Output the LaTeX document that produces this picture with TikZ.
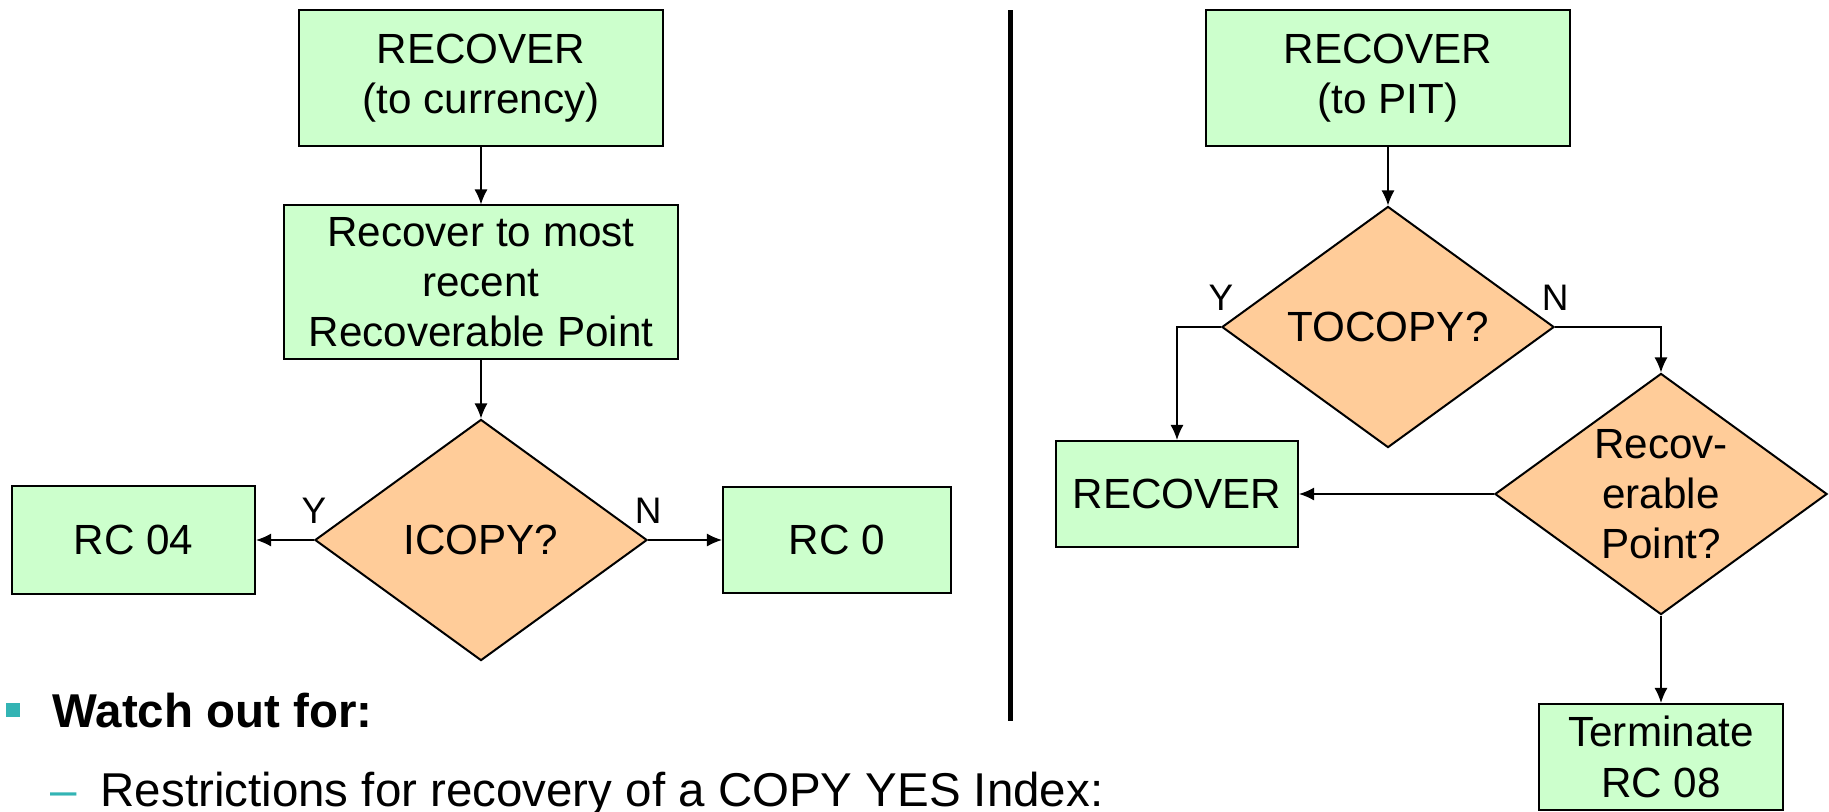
\documentclass[tikz,border=0pt]{standalone}
\usepackage{fontspec}
\setmainfont{Liberation Sans}
\usepackage{xcolor}
\usetikzlibrary{positioning}
\usetikzlibrary{shapes.geometric}
\usetikzlibrary{arrows.meta}

\definecolor{boxgreen}{RGB}{204,255,204}
\definecolor{decorange}{RGB}{255,204,153}
\definecolor{bulletteal}{RGB}{51,180,180}

\tikzset{
	actbox/.style={draw, line width=0.57pt, fill=boxgreen, align=center, inner sep=0pt,
		font=\fontsize{12pt}{14.3pt}\selectfont},
	decision/.style={diamond, draw, line width=0.57pt, fill=decorange, align=center, inner sep=0pt,
		aspect=1.38, minimum width=3.32cm, minimum height=2.41cm,
		font=\fontsize{12pt}{14.3pt}\selectfont},
	yn/.style={inner sep=0pt, font=\fontsize{10.5pt}{12pt}\selectfont},
	flow/.style={-{Latex[length=0.15cm, width=0.13cm]}, line width=0.4pt},
	slidetext/.style={anchor=base west, inner sep=0pt, font=\fontsize{13.5pt}{16pt}\selectfont},
}

\begin{document}
\begin{tikzpicture}[x=0.01cm, y=-0.01cm]
	\useasboundingbox (0,0) rectangle (1829,811);

	% recover to currency
	\begin{scope}
		\node[actbox, minimum width=3.64cm, minimum height=1.36cm] (curtop) at (481,78) {RECOVER\\(to currency)};
		\node[actbox, minimum width=3.94cm, minimum height=1.53cm] (mostrecent) at (481,282) {Recover to most\\recent\\Recoverable Point};
		\node[decision] (icopy) at (481,540) {ICOPY?};
		\node[actbox, minimum width=2.43cm, minimum height=1.08cm] (rcfour) at (133.5,540) {RC 04};
		\node[actbox, minimum width=2.28cm, minimum height=1.06cm] (rczero) at (837,540) {RC 0};
		\draw[flow] (curtop) -- (mostrecent);
		\draw[flow] (mostrecent) -- (icopy);
		\draw[flow] (icopy.west) node[yn, above=0.16cm]{Y} -- (rcfour.east);
		\draw[flow] (icopy.east) node[yn, above=0.16cm]{N} -- (rczero.west);
	\end{scope}

	\draw[line width=1.42pt] (1010,10) -- (1010,721);

	% recover to PIT
	\begin{scope}
		\node[actbox, minimum width=3.63cm, minimum height=1.36cm] (pittop) at (1388,78) {RECOVER\\(to PIT)};
		\node[decision] (tocopy) at (1388,327) {TOCOPY?};
		\node[actbox, minimum width=2.42cm, minimum height=1.06cm] (recbox) at (1177,494) {RECOVER};
		\node[decision] (recpoint) at (1661,494) {Recov-\\erable\\Point?};
		\node[actbox, minimum width=2.44cm, minimum height=1.06cm] (term) at (1661,757) {Terminate\\RC 08};
		\draw[flow] (pittop) -- (tocopy);
		\draw[flow] (tocopy.west) node[yn, above=0.16cm]{Y} -| (recbox.north);
		\draw[flow] (tocopy.east) node[yn, above=0.16cm]{N} -| (recpoint.north);
		\draw[flow] (recpoint.west) -- (recbox.east);
		\draw[flow] (recpoint) -- (term);
	\end{scope}

	% notes underneath
	\fill[bulletteal] (6,703) rectangle (20,717);
	\node[slidetext, font=\bfseries\fontsize{13.5pt}{16pt}\selectfont] (watch) at (52,727) {Watch out for:};
	\node[slidetext, text=bulletteal] (dash) at (50,806) {–};
	\node[slidetext] (restrict) at (100,806) {Restrictions for recovery of a COPY YES Index:};
\end{tikzpicture}
\end{document}
